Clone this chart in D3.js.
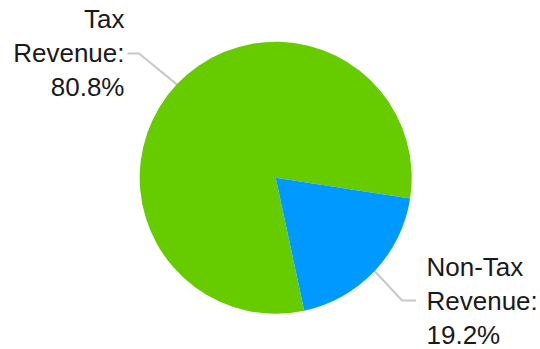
<!DOCTYPE html>
<html lang="en">
<head>
<meta charset="UTF-8">
<title>revenue pie</title>
<script src="https://cdn.jsdelivr.net/npm/d3@7"></script>
<style>
  body { margin: 0; background: #fff; }
  text { font-family: "Liberation Sans", Arial, sans-serif; fill: #1a1a1a; }
</style>
</head>
<body>
<script>
let categories = ['Tax Revenue', 'Non-Tax Revenue'];
let values = [80.8, 19.2];
let labelLines = [['Tax', 'Revenue:', '80.8%'], ['Non-Tax', 'Revenue:', '19.2%']];
let colors = ['#66cc00', '#0099ff'];

let width = 540;
let height = 349;
let cx = 275.7;
let cy = 177.7;
let radius = 136;
let startDeg = 167.9;

let svg = d3.select('body')
  .append('svg')
  .attr('width', width)
  .attr('height', height);

let pie = d3.pie()
  .sort(null)
  .startAngle(startDeg * Math.PI / 180)
  .endAngle(startDeg * Math.PI / 180 + 2 * Math.PI);

let arcs = pie(values);
let arc = d3.arc().innerRadius(0).outerRadius(radius);

let g = svg.append('g')
  .attr('transform', 'translate(' + cx + ',' + cy + ')');

// leader lines: slice edge -> elbow -> label
let elbows = [
  { ex: 139 - cx, ey: 53.5 - cy, hx: 127.5 - cx },
  { ex: 402 - cx, ey: 300.5 - cy, hx: 416 - cx }
];

g.selectAll('polyline.leader')
  .data(arcs)
  .enter()
  .append('polyline')
  .attr('class', 'leader')
  .attr('fill', 'none')
  .attr('stroke', '#c8c8c8')
  .attr('stroke-width', 2)
  .attr('points', function (d, i) {
    let a = (d.startAngle + d.endAngle) / 2;
    let px = radius * Math.sin(a);
    let py = -radius * Math.cos(a);
    let e = elbows[i];
    return [[px, py], [e.ex, e.ey], [e.hx, e.ey]].map(p => p.join(',')).join(' ');
  });

g.selectAll('path.slice')
  .data(arcs)
  .enter()
  .append('path')
  .attr('class', 'slice')
  .attr('d', arc)
  .attr('fill', (d, i) => colors[i]);

// labels
let labelPos = [
  { x: 124.5, y: 27.5, anchor: 'end' },
  { x: 426.5, y: 275.7, anchor: 'start' }
];

labelLines.forEach(function (lines, i) {
  let t = svg.append('text')
    .attr('x', labelPos[i].x)
    .attr('y', labelPos[i].y)
    .attr('text-anchor', labelPos[i].anchor)
    .attr('font-size', 26);
  t.selectAll('tspan')
    .data(lines)
    .enter()
    .append('tspan')
    .attr('x', labelPos[i].x)
    .attr('dy', (d, j) => j === 0 ? 0 : 34)
    .text(d => d);
});
</script>
</body>
</html>
